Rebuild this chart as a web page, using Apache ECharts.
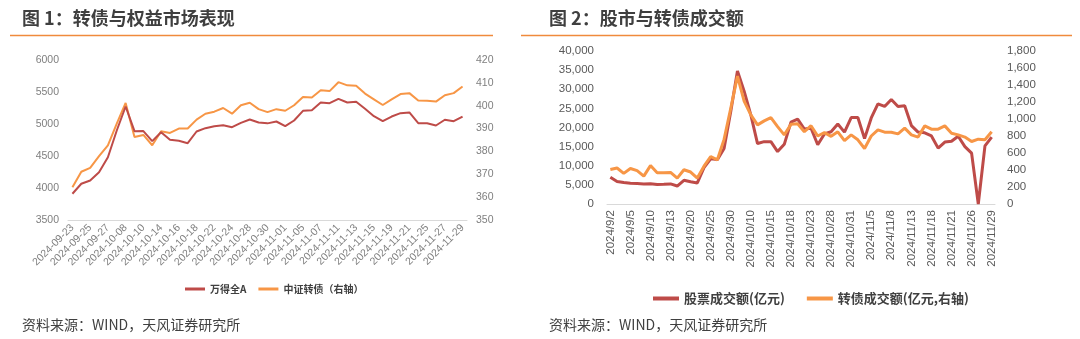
<!DOCTYPE html>
<html>
<head>
<meta charset="utf-8">
<script src="https://cdn.jsdelivr.net/npm/echarts@6/dist/echarts.min.js"></script>
<style>
html,body{margin:0;padding:0;background:#fff;}
#c{width:1080px;height:339px;}
</style>
</head>
<body>
<div id="c"></div>
<script>
// ---------- Data: chart 1 ----------
const leftDates = ['2024-09-23','2024-09-24','2024-09-25','2024-09-26','2024-09-27','2024-09-30',
'2024-10-08','2024-10-09','2024-10-10','2024-10-11','2024-10-14','2024-10-15','2024-10-16','2024-10-17','2024-10-18',
'2024-10-21','2024-10-22','2024-10-23','2024-10-24','2024-10-25','2024-10-28','2024-10-29','2024-10-30','2024-10-31',
'2024-11-01','2024-11-04','2024-11-05','2024-11-06','2024-11-07','2024-11-08','2024-11-11','2024-11-12','2024-11-13',
'2024-11-14','2024-11-15','2024-11-18','2024-11-19','2024-11-20','2024-11-21','2024-11-22','2024-11-25','2024-11-26',
'2024-11-27','2024-11-28','2024-11-29'];
const windA = [3910,4066,4117,4247,4481,4898,5273,4888,4890,4732,4872,4753,4737,4700,4883,
4935,4966,4981,4950,5018,5070,5023,5010,5039,4966,5055,5206,5216,5336,5325,5393,5336,5347,
5237,5122,5044,5117,5169,5180,5012,5012,4977,5066,5044,5117];
const cbIndex = [364.3,371.1,372.8,377.9,382.7,392.2,401.2,386.3,387.2,382.7,388.8,388.1,390.0,390.0,393.9,
396.5,397.4,399.0,396.5,400.2,401.3,398.5,397.2,398.5,397.8,400.2,403.8,403.6,406.8,406.4,410.3,408.9,408.7,
405.3,402.8,400.3,402.8,405.1,405.5,402.3,402.2,401.8,404.6,405.5,408.4];
const leftNames = ['万得全A','中证转债（右轴）'];

// ---------- Data: chart 2 ----------
const rightDates = ['2024/9/2','2024/9/3','2024/9/4','2024/9/5','2024/9/6','2024/9/9','2024/9/10','2024/9/11','2024/9/12','2024/9/13',
'2024/9/18','2024/9/19','2024/9/20','2024/9/23','2024/9/24','2024/9/25','2024/9/26','2024/9/27','2024/9/30',
'2024/10/8','2024/10/9','2024/10/10','2024/10/11','2024/10/14','2024/10/15','2024/10/16','2024/10/17','2024/10/18',
'2024/10/21','2024/10/22','2024/10/23','2024/10/24','2024/10/25','2024/10/28','2024/10/29','2024/10/30','2024/10/31',
'2024/11/1','2024/11/4','2024/11/5','2024/11/6','2024/11/7','2024/11/8','2024/11/11','2024/11/12','2024/11/13',
'2024/11/14','2024/11/15','2024/11/18','2024/11/19','2024/11/20','2024/11/21','2024/11/22','2024/11/25','2024/11/26',
'2024/11/27','2024/11/28','2024/11/29'];
const stockTurnover = [7000,5900,5600,5400,5350,5250,5300,5100,5150,5250,4700,6200,5800,5500,9500,11800,11600,14500,24200,
34800,29500,23300,15800,16300,16300,13700,15600,21400,22200,19600,19800,15500,18300,18900,20900,18800,22600,
22600,17100,22500,26200,25500,27300,25500,25700,20500,18800,18600,17800,14600,16200,16400,17700,15000,13300,0,15200,17500];
const cbTurnover = [405,423,360,418,393,328,452,368,368,371,305,403,376,305,445,559,520,760,1127,
1505,1210,1048,931,978,1017,911,813,937,943,850,921,800,839,796,849,745,813,
755,653,800,872,845,845,825,892,813,787,919,880,880,919,833,813,787,735,763,755,849];
const rightNames = ['股票成交额(亿元)','转债成交额(亿元,右轴)'];

const titles = ['图 1：转债与权益市场表现','图 2：股市与转债成交额'];
const sourceText = '资料来源：WIND，天风证券研究所';

// ---------- Styles ----------
const RED = '#BE4B48', ORANGE = '#F79646';
const FONT = '"Liberation Sans", Arial, "Noto Sans CJK SC", sans-serif';
const CJK = '"Noto Sans CJK SC", "Liberation Sans", sans-serif';
const commas = v => String(v).replace(/\B(?=(\d{3})+(?!\d))/g, ',');
const plain = v => String(v);

const chart = echarts.init(document.getElementById('c'), null, {renderer:'canvas'});
chart.setOption({
  animation: false,
  backgroundColor: '#fff',
  textStyle: {fontFamily: FONT},
  title: [
    {text: titles[0], left: 22, top: 9, padding: 0, textStyle: {fontFamily: CJK, fontSize: 18, fontWeight: 'bold', color: '#3f3f3f'}},
    {text: titles[1], left: 549, top: 9, padding: 0, textStyle: {fontFamily: CJK, fontSize: 18, fontWeight: 'bold', color: '#3f3f3f'}}
  ],
  graphic: [
    {type: 'line', shape: {x1: 10, y1: 35.5, x2: 493, y2: 35.5}, style: {stroke: '#F08A3C', lineWidth: 1.5}},
    {type: 'line', shape: {x1: 521, y1: 35.5, x2: 1072, y2: 35.5}, style: {stroke: '#F08A3C', lineWidth: 1.5}},
    {type: 'text', left: 22, top: 318, style: {text: sourceText, font: '14px "Noto Sans CJK SC", sans-serif', fill: '#404040'}},
    {type: 'text', left: 549, top: 318, style: {text: sourceText, font: '14px "Noto Sans CJK SC", sans-serif', fill: '#404040'}}
  ],
  legend: [
    {data: leftNames, left: 180, top: 279, itemWidth: 20, itemHeight: 3, itemGap: 12, icon: 'rect',
     textStyle: {fontFamily: CJK, fontSize: 10, fontWeight: 'bold', color: '#404040'}},
    {data: rightNames, left: 648, top: 287, itemWidth: 26, itemHeight: 4, itemGap: 22, icon: 'rect',
     textStyle: {fontFamily: CJK, fontSize: 13, fontWeight: 'bold', color: '#404040'}}
  ],
  grid: [
    {left: 68, top: 60, width: 399, height: 160},
    {left: 607, top: 51, width: 388, height: 153}
  ],
  xAxis: [
    {type: 'category', gridIndex: 0, data: leftDates, boundaryGap: true,
     axisLine: {lineStyle: {color: '#d9d9d9'}},
     axisTick: {interval: 0, length: 4, lineStyle: {color: '#d9d9d9'}},
     axisLabel: {interval: 1, rotate: 45, fontSize: 10.5, color: '#7f7f7f', margin: 6}},
    {type: 'category', gridIndex: 1, data: rightDates, boundaryGap: true,
     axisLine: {lineStyle: {color: '#d9d9d9'}},
     axisTick: {interval: 0, length: 4, lineStyle: {color: '#d9d9d9'}},
     axisLabel: {interval: 2, rotate: 90, fontSize: 11.5, color: '#595959', margin: 6}}
  ],
  yAxis: [
    {type: 'value', gridIndex: 0, min: 3500, max: 6000, interval: 500, splitLine: {show: false},
     axisLine: {show: false}, axisTick: {show: false},
     axisLabel: {fontSize: 10.5, color: '#7f7f7f', margin: 9, formatter: plain}},
    {type: 'value', gridIndex: 0, position: 'right', min: 350, max: 420, interval: 10, splitLine: {show: false},
     axisLine: {show: false}, axisTick: {show: false},
     axisLabel: {fontSize: 10.5, color: '#7f7f7f', margin: 9, formatter: plain}},
    {type: 'value', gridIndex: 1, min: 0, max: 40000, interval: 5000, splitLine: {show: false},
     axisLine: {show: false}, axisTick: {show: false},
     axisLabel: {fontSize: 11.5, color: '#595959', margin: 13, formatter: commas}},
    {type: 'value', gridIndex: 1, position: 'right', min: 0, max: 1800, interval: 200, splitLine: {show: false},
     axisLine: {show: false}, axisTick: {show: false},
     axisLabel: {fontSize: 11.5, color: '#595959', margin: 12, formatter: commas}}
  ],
  series: [
    {name: leftNames[1], type: 'line', xAxisIndex: 0, yAxisIndex: 1, data: cbIndex, showSymbol: false,
     lineStyle: {color: ORANGE, width: 2}, itemStyle: {color: ORANGE}},
    {name: leftNames[0], type: 'line', xAxisIndex: 0, yAxisIndex: 0, data: windA, showSymbol: false,
     lineStyle: {color: RED, width: 2}, itemStyle: {color: RED}},
    {name: rightNames[0], type: 'line', xAxisIndex: 1, yAxisIndex: 2, data: stockTurnover, showSymbol: false,
     lineStyle: {color: RED, width: 3}, itemStyle: {color: RED}},
    {name: rightNames[1], type: 'line', xAxisIndex: 1, yAxisIndex: 3, data: cbTurnover, showSymbol: false,
     lineStyle: {color: ORANGE, width: 3}, itemStyle: {color: ORANGE}}
  ]
});
</script>
</body>
</html>
